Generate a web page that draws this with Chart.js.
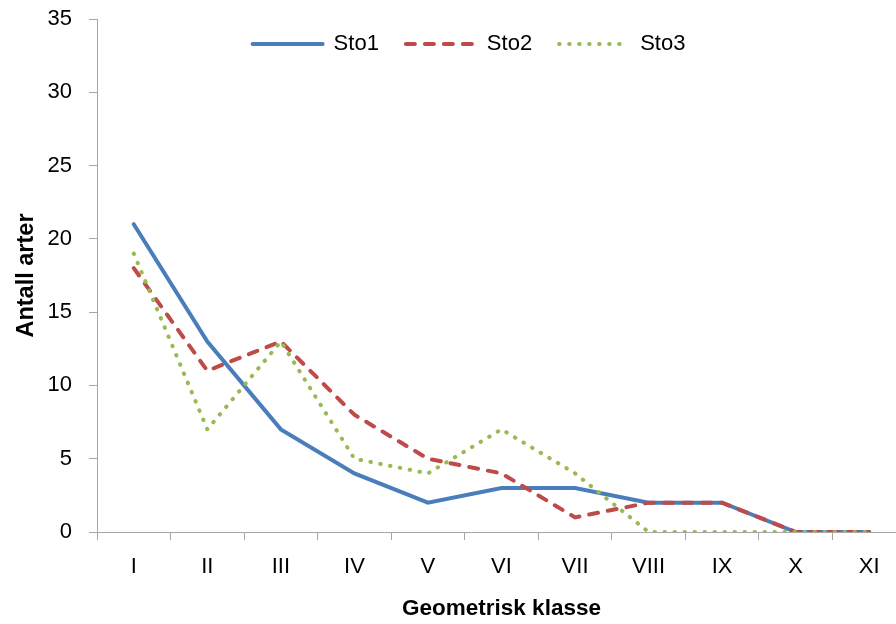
<!DOCTYPE html>
<html>
<head>
<meta charset="utf-8">
<script src="https://cdn.jsdelivr.net/npm/chart.js@4/dist/chart.umd.min.js"></script>
<style>
html,body{margin:0;padding:0;background:#fff;overflow:hidden;width:896px;height:624px;}
canvas{display:block;}
</style>
</head>
<body>
<canvas id="c" width="910" height="624"></canvas>
<script>
const categories = ['I','II','III','IV','V','VI','VII','VIII','IX','X','XI'];
const sto1 = [21,13,7,4,2,3,3,2,2,0,0];
const sto2 = [18,11,13,8,5,4,1,2,2,0,0];
const sto3 = [19,7,13,5,4,7,4,0,0,0,0];
const yTicks = [0,5,10,15,20,25,30,35];

const FONT = 'Liberation Sans, Arial, sans-serif';
const axisColor = '#a6a6a6';

const legendFloat = {
  id: 'legendFloat',
  afterInit(chart) {
    const lg = chart.legend;
    if (!lg || lg._floatPatched) return;
    const origFit = lg.fit.bind(lg);
    lg.fit = function() { origFit(); this.height = 0; };
    lg._floatPatched = true;
  },
  afterLayout(chart) {
    const lg = chart.legend;
    if (!lg) return;
    const dx = 16;
    lg.left += dx; lg.right += dx;
    lg.top = 6; lg.bottom = 6 + 46;
  }
};

function legendLabels(chart) {
  const items = Chart.defaults.plugins.legend.labels.generateLabels(chart);
  return items.map(it => {
    const ds = chart.data.datasets[it.datasetIndex];
    it.lineDash = ds.borderDash || [];
    it.lineWidth = ds.borderWidth;
    it.strokeStyle = ds.borderColor;
    it.fillStyle = ds.borderColor;
    it.lineCap = ds.borderCapStyle || 'butt';
    it.pointStyle = 'line';
    return it;
  });
}

new Chart(document.getElementById('c'), {
  type: 'line',
  data: {
    labels: categories,
    datasets: [
      {label: 'Sto1', data: sto1, borderColor: '#4a7ebb', backgroundColor: '#4a7ebb', borderWidth: 4, pointRadius: 0, tension: 0, order: 3, borderCapStyle: 'round'},
      {label: 'Sto2', data: sto2, borderColor: '#be4b48', backgroundColor: '#be4b48', borderWidth: 4, borderDash: [9, 10], borderCapStyle: 'round', pointRadius: 0, tension: 0, order: 2},
      {label: 'Sto3', data: sto3, borderColor: '#98b954', backgroundColor: '#98b954', borderWidth: 4, borderDash: [0.5, 9.5], borderCapStyle: 'round', pointRadius: 0, tension: 0, order: 1}
    ]
  },
  options: {
    responsive: false,
    animation: false,
    devicePixelRatio: 1,
    layout: {padding: {left: 0, right: 4, top: 19, bottom: 0}},
    plugins: {
      tooltip: {enabled: false},
      legend: {
        position: 'top',
        align: 'center',
        labels: {
          usePointStyle: true,
          pointStyle: 'line',
          pointStyleWidth: 70,
          boxHeight: 20,
          padding: 27,
          color: '#000',
          font: {family: FONT, size: 22},
          generateLabels: legendLabels,
          sort: (a, b) => a.datasetIndex - b.datasetIndex
        }
      }
    },
    scales: {
      x: {
        type: 'category',
        offset: true,
        grid: {display: true, drawOnChartArea: false, drawTicks: true, tickLength: 8, color: axisColor, offset: true},
        border: {display: true, color: axisColor, width: 1},
        ticks: {color: '#000', font: {family: FONT, size: 22}, padding: 14, maxRotation: 0, autoSkip: false},
        title: {display: true, text: 'Geometrisk klasse', color: '#000', font: {family: FONT, size: 22.5, weight: 'bold'}, padding: {top: 0, bottom: 2}},
        afterFit: s => { s.height = 92; s.paddingLeft = 0; s.paddingRight = 0; }
      },
      y: {
        min: 0, max: 35,
        afterBuildTicks: s => { s.ticks = yTicks.map(v => ({value: v})); },
        grid: {display: true, drawOnChartArea: false, drawTicks: true, tickLength: 8, color: axisColor},
        border: {display: true, color: axisColor, width: 1},
        ticks: {color: '#000', font: {family: FONT, size: 22}, padding: 17},
        title: {display: true, text: 'Antall arter', color: '#000', font: {family: FONT, size: 23.5, weight: 'bold'}, padding: {top: 12, bottom: 0}},
        afterFit: s => { s.width = 97; s.paddingTop = 0; s.paddingBottom = 0; }
      }
    }
  },
  plugins: [legendFloat]
});
</script>
</body>
</html>
